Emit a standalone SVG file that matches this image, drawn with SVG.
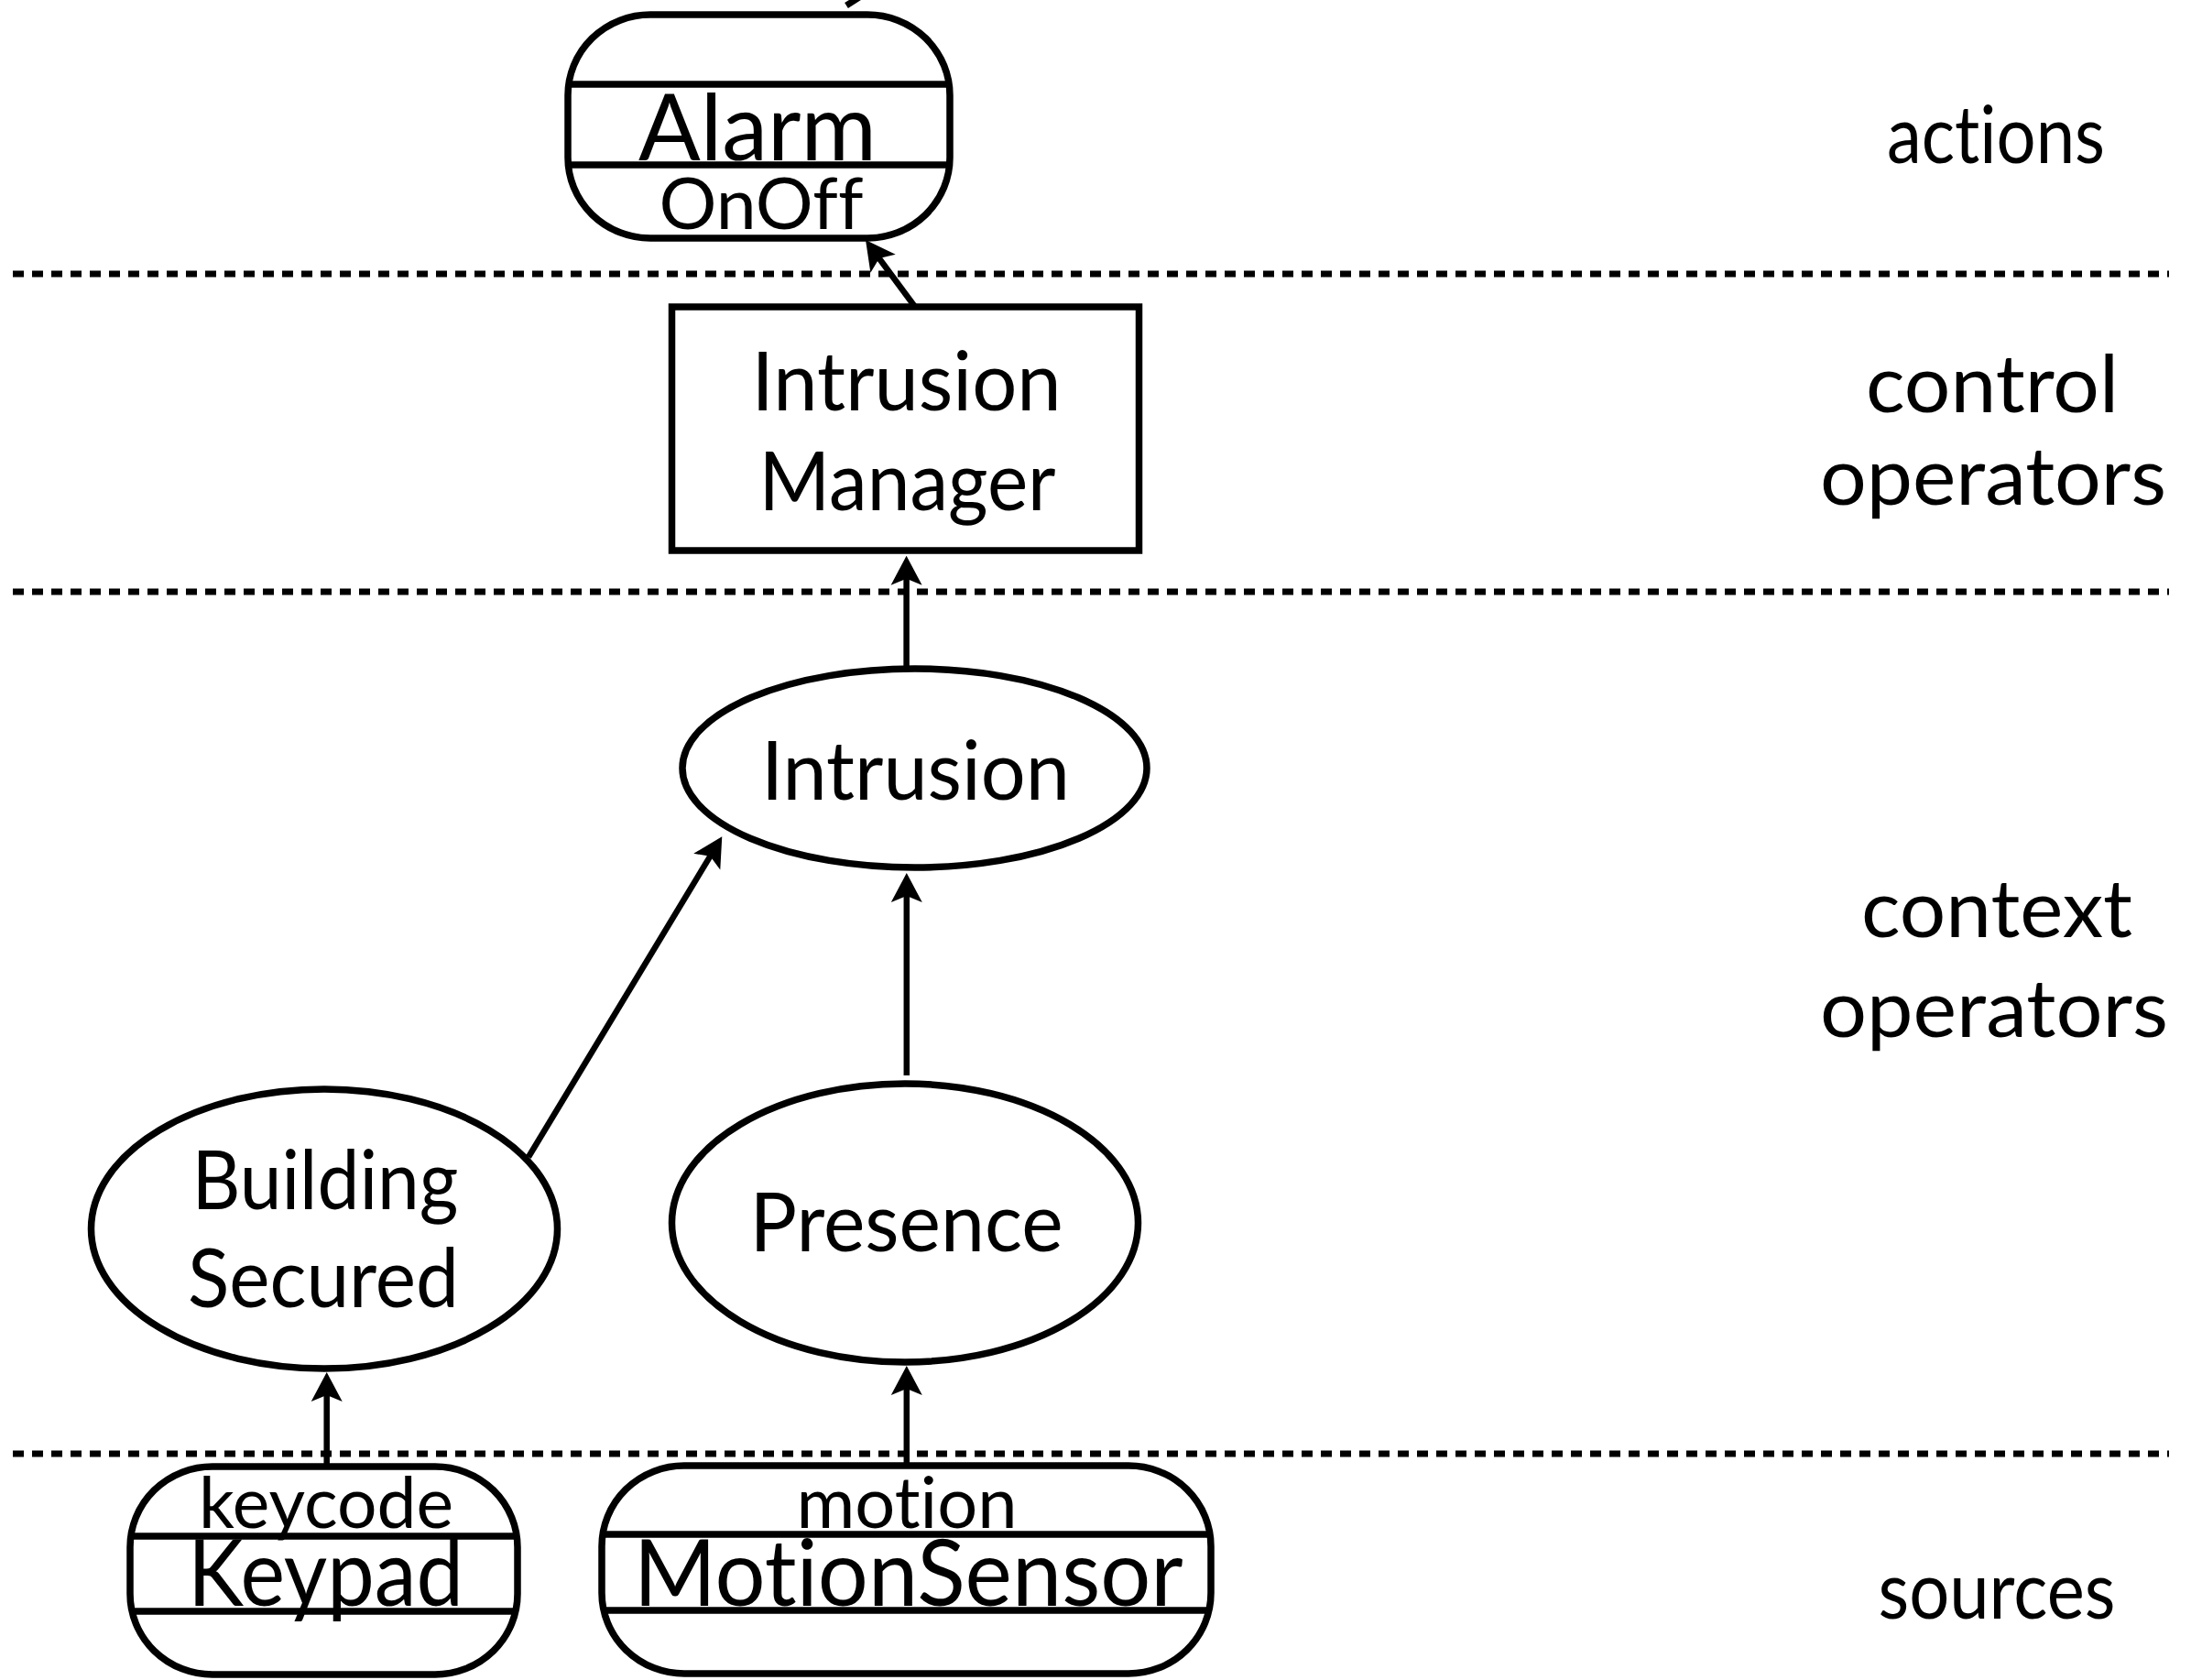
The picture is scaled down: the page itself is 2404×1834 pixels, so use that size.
<svg xmlns="http://www.w3.org/2000/svg" width="2404" height="1834" viewBox="0 0 2404 1834">
<style>
.node{fill:#fff;stroke:#000;stroke-width:7.5}
.sep{stroke:#000;stroke-width:7.5}
.t{font-family:Lato,"Open Sans","Liberation Sans",sans-serif;fill:#000;text-anchor:middle;font-variant-ligatures:none;font-feature-settings:"liga" 0,"clig" 0}
.big{font-size:90px}
.side{font-size:88px}
.name{font-size:100px}
.attr{font-size:78px}
.conn{stroke:#000;stroke-width:6.5;fill:none;marker-end:url(#arr)}
.dash{stroke:#000;stroke-width:7;stroke-dasharray:12 9;fill:none}
</style>
<defs>
<marker id="arr" markerUnits="userSpaceOnUse" viewBox="-40 -20 45 40" markerWidth="45" markerHeight="40" refX="-22" refY="0" orient="auto" overflow="visible">
<path d="M0,0 L-32,-17 L-25,0 L-32,17 Z" fill="#000"/>
</marker>
</defs>
<rect width="2404" height="1834" fill="#fff"/>
<g id="layers">
<line class="dash" x1="14" y1="299" x2="2368" y2="299"/>
<line class="dash" x1="14" y1="646" x2="2368" y2="646"/>
<line class="dash" x1="14" y1="1587" x2="2368" y2="1587"/>
<text class="t side" x="2179" y="178" textLength="238" lengthAdjust="spacingAndGlyphs">actions</text>
<text class="t side" x="2175" y="450" textLength="276" lengthAdjust="spacingAndGlyphs">control</text>
<text class="t side" x="2176" y="551" textLength="378" lengthAdjust="spacingAndGlyphs">operators</text>
<text class="t side" x="2180" y="1023" textLength="296" lengthAdjust="spacingAndGlyphs">context</text>
<text class="t side" x="2177" y="1132" textLength="380" lengthAdjust="spacingAndGlyphs">operators</text>
<text class="t side" x="2180" y="1767" textLength="259" lengthAdjust="spacingAndGlyphs">sources</text>
</g>
<g id="connectors">
<line x1="924" y1="6" x2="946" y2="-8" stroke="#000" stroke-width="7"/>
<line class="conn" x1="999" y1="335" x2="958.1" y2="279.7"/>
<line class="conn" x1="989.6" y1="730" x2="989.6" y2="628.7"/>
<line class="conn" x1="577" y1="1263" x2="776.9" y2="932.1"/>
<line class="conn" x1="989.8" y1="1174" x2="989.8" y2="975"/>
<line class="conn" x1="356.7" y1="1601" x2="356.7" y2="1520"/>
<line class="conn" x1="989.8" y1="1600" x2="989.8" y2="1513"/>
</g>
<g id="alarm">
<rect class="node" x="620" y="16" width="417" height="244" rx="90" ry="88"/>
<line class="sep" x1="620" y1="92" x2="1037" y2="92"/>
<line class="sep" x1="620" y1="180" x2="1037" y2="180"/>
<text class="t name" x="827" y="175" textLength="260" lengthAdjust="spacingAndGlyphs">Alarm</text>
<text class="t attr" x="831" y="250" textLength="223" lengthAdjust="spacingAndGlyphs">OnOff</text>
</g>
<g id="intrusion-manager">
<rect class="node" x="733.5" y="335" width="510" height="266"/>
<text class="t big" x="989.6" y="448" textLength="338" lengthAdjust="spacingAndGlyphs">Intrusion</text>
<text class="t big" x="990.6" y="557" textLength="324" lengthAdjust="spacingAndGlyphs">Manager</text>
</g>
<g id="intrusion">
<ellipse class="node" cx="998.5" cy="838.5" rx="253.5" ry="108.5"/>
<text class="t big" x="999.4" y="873" textLength="337" lengthAdjust="spacingAndGlyphs">Intrusion</text>
</g>
<g id="building-secured">
<ellipse class="node" cx="354" cy="1341.5" rx="254.5" ry="152.5"/>
<text class="t big" x="355" y="1320" textLength="291" lengthAdjust="spacingAndGlyphs">Building</text>
<text class="t big" x="353" y="1427" textLength="296" lengthAdjust="spacingAndGlyphs">Secured</text>
</g>
<g id="presence">
<ellipse class="node" cx="988" cy="1335" rx="254.5" ry="152"/>
<text class="t big" x="989.6" y="1366" textLength="342" lengthAdjust="spacingAndGlyphs">Presence</text>
</g>
<g id="keypad">
<rect class="node" x="142" y="1601" width="423" height="227" rx="90" ry="88"/>
<line class="sep" x1="142" y1="1677" x2="565" y2="1677"/>
<line class="sep" x1="142" y1="1759" x2="565" y2="1759"/>
<text class="t attr" x="356" y="1668" textLength="278" lengthAdjust="spacingAndGlyphs">keycode</text>
<text class="t name" x="355.5" y="1753" textLength="301" lengthAdjust="spacingAndGlyphs">Keypad</text>
</g>
<g id="motion-sensor">
<rect class="node" x="657" y="1600" width="665" height="227" rx="90" ry="88"/>
<line class="sep" x1="657" y1="1675" x2="1322" y2="1675"/>
<line class="sep" x1="657" y1="1758" x2="1322" y2="1758"/>
<text class="t attr" x="990" y="1668" textLength="241" lengthAdjust="spacingAndGlyphs">motion</text>
<text class="t name" x="991.7" y="1753" textLength="600" lengthAdjust="spacingAndGlyphs">MotionSensor</text>
</g>
</svg>
